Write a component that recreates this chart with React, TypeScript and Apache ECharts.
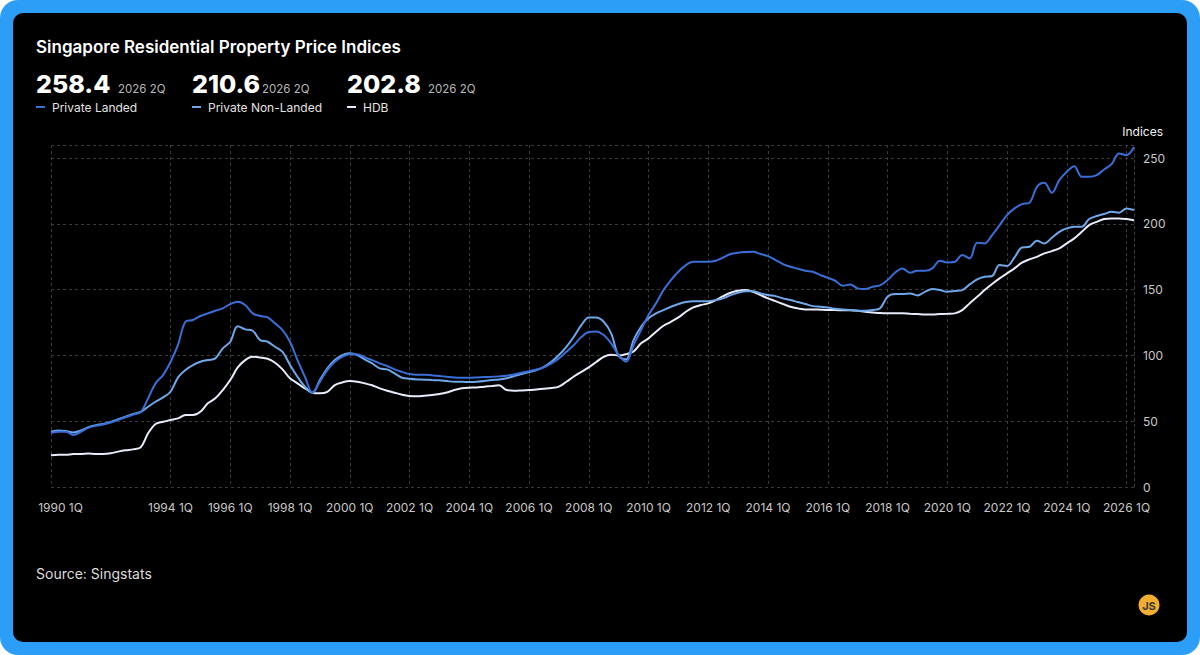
import React, { useEffect, useRef } from "react";
import * as echarts from "echarts";

const quarterLabels: string[] = [];
for (let y = 1990; y <= 2026; y++) {
  for (let q = 1; q <= 4; q++) {
    if (y === 2026 && q > 2) break;
    quarterLabels.push(`${y} ${q}Q`);
  }
}

const privateLanded: number[] = [
  41, 42, 42, 39.5, 42, 45, 46.5, 47.5, 49, 51, 53, 55, 57,
  67.4, 78.8, 85, 95, 108, 125.6, 127, 130, 132, 134, 135.8, 139, 140.8, 138.3, 132, 130, 129, 124.4, 119.3, 110.4, 96.5, 83.8, 71.7,
  80, 88.9, 95.2, 99, 101, 101, 98.5, 96.5, 94, 92, 89.4, 87.4, 85.9, 85.4, 85.4, 84.9, 84.4, 83.8, 83.3, 83.1, 83.1, 83.3, 83.6, 83.8, 84.1, 84.6, 85.6, 86.9, 88.1, 89.4, 90.9, 94, 97.8, 102.8, 108, 114, 117.8, 118.3,
  115.5, 109.2, 100.3, 95.3, 107.9, 119.3, 130.7, 139.6, 149.7, 157.3, 163.6, 168.7, 171.2, 171.2, 171.2, 172, 174.5, 177.1, 178.1, 178.6, 178.8, 177.1, 175.5, 172.5, 169.5, 167.4, 165.9, 164.4, 163.6, 161.1, 159.1, 156.8, 153, 154, 151,
  150.5, 152.2, 153.3, 157.3, 162.9, 166.2, 162.9, 164.4, 164.4, 166.2, 172, 170.7, 171.2, 176.3, 173.8, 185.7, 185.2, 191.5, 199.1, 206.7, 211.8, 215.1, 216.1, 228.2, 231.3, 223.7, 233.3, 239.6, 243.9, 235.8, 235.8, 237.1, 241.4, 245.5, 253.6, 252.3, 258.4,
];

const privateNonLanded: number[] = [
  42, 43, 42.5, 41.5, 43, 45.5, 47, 48, 49.5, 51.5, 53.5, 55.5, 57,
  61, 64.8, 68.1, 72.4, 83.1, 88.9, 92.7, 95.2, 96.5, 97.8, 105.4, 110.4, 122.3, 119.8, 118.8, 111.7, 110.4, 106.6, 102.8, 92.7, 83.8, 76.2, 71.7,
  81.3, 90.2, 96.5, 100.3, 101.6, 100.3, 97, 94, 90.2, 89.4, 86.4, 83.1, 82.3, 81.8, 81.6, 81.3, 81.1, 80.5, 80, 80, 79.8, 80, 80.5, 81.3, 81.8, 82.6, 84.4, 85.9, 87.4, 88.9, 91.4, 95.2, 100.3, 106.6, 114.2, 123, 128.9, 128.9,
  125.6, 116.8, 99.5, 97, 111.7, 121.8, 128.2, 132, 134.5, 137, 139.1, 140.6, 141.3, 141.3, 141.3, 142.1, 143.4, 145.9, 147.7, 148.9, 148.9, 147.2, 145.9, 145.1, 143.4, 142.1, 140.6, 139.1, 137.5, 137, 136.5, 135.5, 135, 134.5, 134,
  134, 134.5, 135.8, 144.6, 146.7, 146.7, 147.2, 145.6, 148.4, 150.5, 149.7, 148.4, 149, 149.7, 154, 157.8, 159.8, 160.4, 168.7, 168, 174.5, 182.1, 182.6, 187.2, 185.2, 189.5, 194, 196.6, 197.8, 197.8, 203.7, 206, 207.5, 209.2, 208.5, 211.8, 210.6,
];

const hdb: number[] = [
  24.1, 24.5, 24.5, 25, 25, 25.5, 25, 25, 25.6, 26.9, 27.9, 28.6, 30.1,
  40.8, 47.9, 49.6, 50.9, 52.2, 54.7, 54.7, 57.2, 63.6, 67.4, 73.7, 81.3, 90.9, 96.5, 99, 98.5, 97.5, 94.5, 89.4, 82.6, 78.8, 75, 71.7,
  71.2, 72.4, 77.5, 79.5, 80.5, 80, 78.8, 77.3, 75, 73.2, 71.7, 70.2, 69.2, 68.9, 69.4, 69.9, 70.7, 71.9, 73.7, 75, 75.5, 75.7, 76.3, 76.8, 77.3, 73.7, 73.2, 73.4, 73.7, 74.2, 74.7, 75.2, 76.3, 80, 84, 87.5, 91, 95,
  99, 100.5, 100, 101, 103, 109.2, 113, 118, 122.6, 125.6, 128.9, 133.2, 136.5, 138.3, 139.6, 142.1, 145.1, 147.7, 149.2, 149.7, 148.4, 145.9, 143.4, 141.3, 139.1, 137, 135.8, 135, 135, 134.8, 134.5, 134.5, 134.3, 134.3, 134,
  133.2, 132.7, 132.2, 132, 132, 132, 131.7, 131.5, 131.2, 131.2, 131.5, 131.7, 132, 134.5, 139.6, 144.6, 149.7, 154.3, 158.6, 162.4, 166.2, 170.5, 173, 175, 177.6, 179.3, 181.4, 185.2, 189, 194, 199.1, 201.6, 203.7, 204.2, 204.2, 203.7, 202.8,
];

const seriesNames = ["Private Landed", "Private Non-Landed", "HDB"];
const seriesColors = ["#3a6fd8", "#6ea8ea", "#e6ecfa"];
const seriesData = [privateLanded, privateNonLanded, hdb];
const yTicks = [0, 50, 100, 150, 200, 250];
const hiddenLabelQuarters = ["1992 1Q"];

const FONT = "Inter, 'Noto Sans', sans-serif";

const showTick = (idx: number) =>
  idx % 8 === 0 && !hiddenLabelQuarters.includes(quarterLabels[idx]);

export default function App() {
  const ref = useRef<HTMLDivElement>(null);

  useEffect(() => {
    if (!ref.current) return;
    const chart = echarts.init(ref.current, undefined, { renderer: "svg" });
    const last = quarterLabels[quarterLabels.length - 1];
    const statX = [36, 192, 347];
    const periodX = [118, 262, 428];
    const statElems: any[] = [];
    seriesNames.forEach((name, k) => {
      const d = seriesData[k];
      const val = d[d.length - 1].toFixed(1);
      const x = statX[k];
      statElems.push({
        type: "text",
        x,
        y: 84,
        style: {
          text: val,
          fill: "#ffffff",
          font: `800 25px ${FONT}`,
          verticalAlign: "middle",
        },
      });
      statElems.push({
        type: "text",
        x: periodX[k],
        y: 89,
        style: {
          text: last,
          fill: "#b8b8b8",
          font: `400 11.5px ${FONT}`,
          verticalAlign: "middle",
        },
      });
      statElems.push({
        type: "rect",
        shape: { x, y: 106, width: 9, height: 2 },
        style: { fill: seriesColors[k] },
      });
      statElems.push({
        type: "text",
        x: x + 16,
        y: 107.5,
        style: {
          text: name,
          fill: "#e2e2e2",
          font: `400 12px ${FONT}`,
          verticalAlign: "middle",
        },
      });
    });

    chart.setOption({
      animation: false,
      backgroundColor: "transparent",
      textStyle: { fontFamily: FONT },
      grid: { left: 51, right: 66, top: 145, bottom: 168, containLabel: false },
      xAxis: {
        type: "category",
        data: quarterLabels,
        boundaryGap: false,
        axisLine: { show: false },
        axisTick: { show: false },
        axisLabel: {
          interval: (idx: number) => showTick(idx),
          color: "#c8c8c8",
          fontSize: 12,
          fontFamily: FONT,
          margin: 14,
          formatter: (v: string, idx: number) =>
            idx === 0 ? `{first|${v}}` : v,
          rich: {
            first: {
              color: "#c8c8c8",
              fontSize: 12,
              fontFamily: FONT,
              padding: [0, 0, 0, 19],
            },
          },
        },
        splitLine: {
          show: true,
          interval: (idx: number) => showTick(idx),
          lineStyle: { color: "#3a3a3a", type: [3, 3], width: 1 },
        },
      },
      yAxis: {
        type: "value",
        position: "right",
        min: 0,
        max: 260,
        interval: 50,
        axisLine: {
          show: true,
          lineStyle: { color: "#3a3a3a", type: [3, 3], width: 1 },
        },
        axisTick: { show: false },
        axisLabel: {
          color: "#c8c8c8",
          fontSize: 12,
          fontFamily: FONT,
          margin: 9,
          formatter: (v: number) => (yTicks.includes(v) ? String(v) : ""),
        },
        splitLine: {
          show: true,
          lineStyle: { color: "#3a3a3a", type: [3, 3], width: 1 },
        },
      },
      series: seriesNames
        .map((name, k) => ({
          name,
          type: "line",
          data: seriesData[k],
          smooth: 0.35,
          showSymbol: false,
          symbol: "none",
          lineStyle: { color: seriesColors[k], width: 2 },
          itemStyle: { color: seriesColors[k] },
          z: 10 - k,
        }))
        .reverse(),
      graphic: [
        {
          type: "text",
          x: 36,
          y: 47,
          style: {
            text: "Singapore Residential Property Price Indices",
            fill: "#ffffff",
            font: `600 17px ${FONT}`,
            verticalAlign: "middle",
          },
        },
        ...statElems,
        {
          type: "text",
          x: 1163,
          y: 131,
          style: {
            text: "Indices",
            fill: "#f0f0f0",
            font: `400 12px ${FONT}`,
            align: "right",
            verticalAlign: "middle",
          },
        },
        {
          type: "text",
          x: 36,
          y: 573,
          style: {
            text: "Source: Singstats",
            fill: "#dcdcdc",
            font: `400 14px ${FONT}`,
            verticalAlign: "middle",
          },
        },
        {
          type: "circle",
          shape: { cx: 1149, cy: 605, r: 10.5 },
          style: { fill: "#f3ad2f" },
        },
        {
          type: "text",
          x: 1149,
          y: 605.5,
          style: {
            text: "JS",
            fill: "#3a3a3a",
            font: `700 11px ${FONT}`,
            align: "center",
            verticalAlign: "middle",
          },
        },
      ],
    });
    return () => chart.dispose();
  }, []);

  return (
    <div
      style={{
        position: "fixed",
        left: 0,
        top: 0,
        width: 1200,
        height: 655,
        background: "#ffffff",
      }}
    >
      <div
        style={{
          position: "absolute",
          left: 0,
          top: 0,
          width: 1200,
          height: 655,
          background: "#2c9ef8",
          borderRadius: 18,
        }}
      />
      <div
        style={{
          position: "absolute",
          left: 13,
          top: 13,
          width: 1174,
          height: 629,
          background: "#000000",
          borderRadius: 10,
        }}
      />
      <div
        ref={ref}
        style={{ position: "absolute", left: 0, top: 0, width: 1200, height: 655 }}
      />
    </div>
  );
}
